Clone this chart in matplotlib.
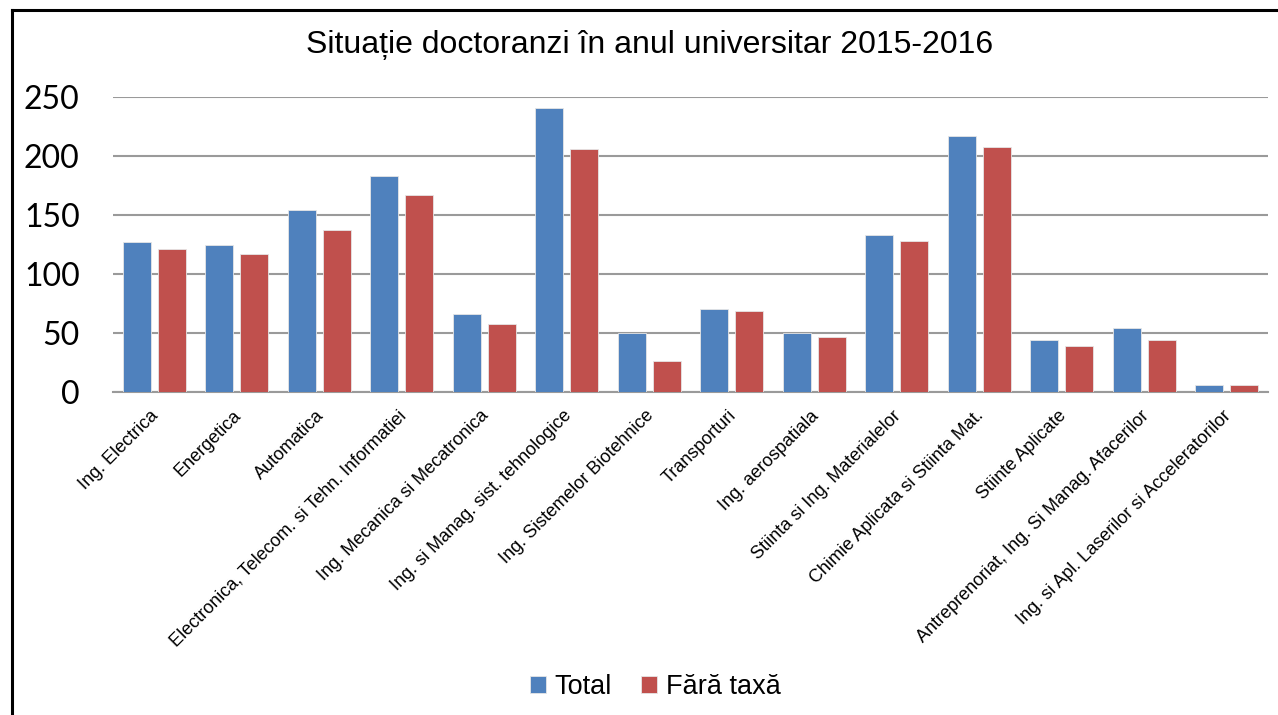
import matplotlib
matplotlib.use("Agg")
import matplotlib.pyplot as plt
from matplotlib.lines import Line2D
import numpy as np

categories = ["Ing. Electrica", "Energetica", "Automatica",
              "Electronica, Telecom. si Tehn. Informatiei",
              "Ing. Mecanica si Mecatronica", "Ing. si Manag. sist. tehnologice",
              "Ing. Sistemelor Biotehnice", "Transporturi", "Ing. aerospatiala",
              "Stiinta si Ing. Materialelor", "Chimie Aplicata si Stiinta Mat.",
              "Stiinte Aplicate", "Antreprenoriat, Ing. Si Manag. Afacerilor",
              "Ing. si Apl. Laserilor si Acceleratorilor"]
total = [127, 125, 154, 183, 66, 241, 50, 70, 50, 133, 217, 44, 54, 6]
fara_taxa = [121, 117, 137, 167, 58, 206, 26, 69, 47, 128, 208, 39, 44, 6]
yticks = [0, 50, 100, 150, 200, 250]

W, H = 1278, 715
fig = plt.figure(figsize=(W / 100, H / 100), dpi=100)
ax = fig.add_axes([113 / W, 1 - 392 / H, (1268 - 113) / W, (392 - 97) / H])

x = np.arange(len(categories))
w = 0.34
b1 = ax.bar(x - 0.2125, total, w, color="#4F81BD", edgecolor="#E6E6E6", linewidth=0.6, label="Total", zorder=3)
b2 = ax.bar(x + 0.2125, fara_taxa, w, color="#C0504D", edgecolor="#E6E6E6", linewidth=0.6, label="Fără taxă", zorder=3)

ax.set_xlim(-0.5, len(categories) - 0.5)
ax.set_ylim(0, 250)
ax.set_yticks(yticks)
ax.yaxis.grid(True, color="#9A9A9A", linewidth=1.5, zorder=0)
for s in ["top", "right", "left"]:
    ax.spines[s].set_visible(False)
ax.spines["bottom"].set_color("#9A9A9A")
ax.spines["bottom"].set_linewidth(1.5)
ax.tick_params(axis="both", length=0)
ax.tick_params(axis="y", pad=24)
for t in ax.get_yticklabels():
    t.set_fontfamily("Lato")
    t.set_fontsize(23)

ax.set_xticks(x - 0.05)
ax.set_xticklabels(categories, rotation=45, ha="right", rotation_mode="anchor",
                   fontsize=13, fontfamily="Liberation Sans")
ax.tick_params(axis="x", pad=11)

fig.text(650 / W, 1 - 45 / H, "Situație doctoranzi în anul universitar 2015-2016",
         ha="center", va="center", fontsize=23, fontfamily="Liberation Sans")

fig.legend(handles=[b1, b2], labels=["Total", "Fără taxă"], loc="center",
           bbox_to_anchor=(655 / W, 1 - 687 / H), ncol=2, frameon=False,
           handlelength=0.6, handleheight=0.6, handletextpad=0.3, columnspacing=1.1,
           prop={"family": "Liberation Sans", "size": 19.5})

fig.add_artist(Line2D([12 / W, 12 / W], [0, 1 - 10 / H], color="black", linewidth=2.2))
fig.add_artist(Line2D([12 / W, 1], [1 - 10 / H, 1 - 10 / H], color="black", linewidth=2.2))

fig.savefig("out.png", dpi=100)
